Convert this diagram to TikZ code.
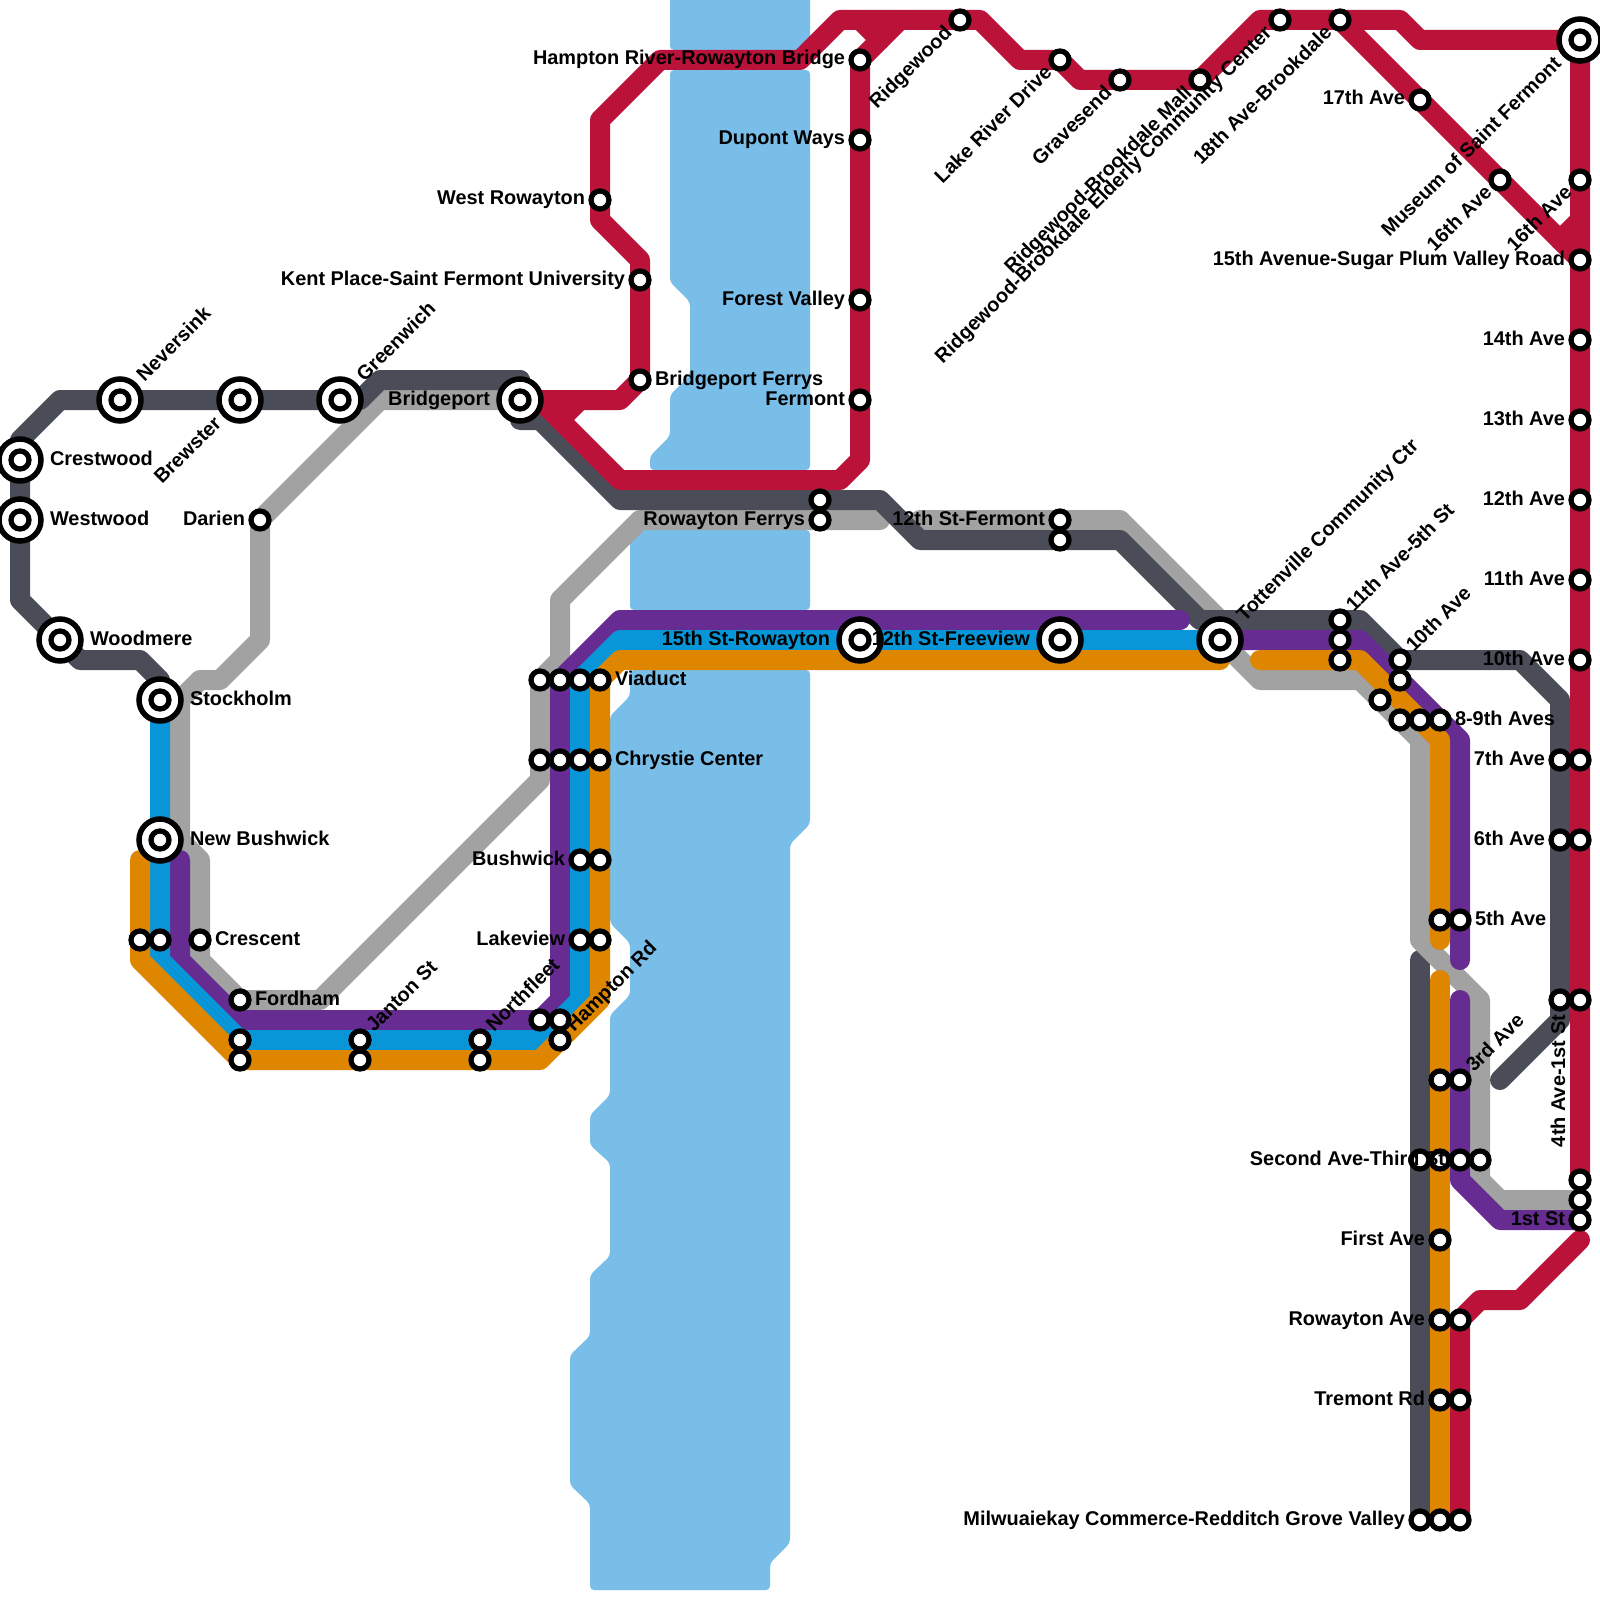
\documentclass[tikz,border=0pt]{standalone}
\usepackage{fontspec}
\setmainfont{Liberation Sans}
\definecolor{crim}{RGB}{187,18,58}
\definecolor{darkg}{RGB}{74,77,88}
\definecolor{lgray}{RGB}{162,162,162}
\definecolor{sky}{RGB}{9,150,216}
\definecolor{purp}{RGB}{102,44,145}
\definecolor{oran}{RGB}{223,134,0}
\definecolor{water}{RGB}{121,189,233}
\pgfdeclarelayer{waterlayer}
\pgfdeclarelayer{linelayer}
\pgfsetlayers{waterlayer,linelayer,main}
\tikzset{
  st/.style={circle,draw=black,fill=white,line width=0.105cm,minimum size=0.36cm,inner sep=0pt,outer sep=0pt},
  bigst/.style={circle,draw=black,fill=white,line width=0.11cm,minimum size=0.84cm,inner sep=0pt,outer sep=0pt},
  rail/.style={line width=0.4cm,line cap=round,line join=round},
  river/.style={fill=water,draw=none,rounded corners=0.08cm},
  lbl/.style={font=\fontsize{11.33}{13}\selectfont\bfseries,inner sep=0pt,outer sep=0pt,text height=0.28cm,text depth=0.08cm,text=black},
  lblL/.style={lbl,anchor=east,xshift=-0.3cm},
  lblR/.style={lbl,anchor=west,xshift=0.3cm},
  lblNE/.style={lbl,anchor=west,xshift=0.212cm,yshift=0.212cm,rotate=45},
  lblSW/.style={lbl,anchor=east,xshift=-0.212cm,yshift=-0.212cm,rotate=45},
  bigL/.style={lbl,anchor=east,xshift=-0.6cm},
  bigR/.style={lbl,anchor=west,xshift=0.6cm},
  bigNE/.style={lbl,anchor=west,xshift=0.424cm,yshift=0.424cm,rotate=45},
  bigSW/.style={lbl,anchor=east,xshift=-0.424cm,yshift=-0.424cm,rotate=45},
  lblUp/.style={lbl,anchor=east,yshift=-0.3cm,rotate=90},
}
\begin{document}
\begin{tikzpicture}[x=0.4cm,y=-0.4cm]
\useasboundingbox (0,0) rectangle (80,80);
% stations
\foreach \x/\y in {13/26,7/47,8/47,10/47,12/50,12/52,12/53,18/52,18/53,24/52,24/53,27/51,28/51,28/52,
  27/34,28/34,29/34,30/34,27/38,28/38,29/38,30/38,29/43,30/43,29/47,30/47,
  30/10,32/14,32/19,43/3,43/7,43/15,43/20,41/25,41/26,53/26,53/27,
  48/1,53/3,56/4,60/4,64/1,67/1,71/5,75/9,79/9,79/13,79/17,79/21,79/25,79/29,79/33,
  78/38,79/38,78/42,79/42,78/50,79/50,79/59,79/60,79/61,
  67/31,67/32,67/33,70/33,70/34,69/35,70/36,71/36,72/36,72/46,73/46,72/54,73/54,
  71/58,72/58,73/58,74/58,72/62,72/66,73/66,72/70,73/70,71/76,72/76,73/76}
  {\node[st] (n\x-\y) at (\x,\y) {};}
\foreach \x/\y in {1/23,1/26,3/32,6/20,12/20,17/20,26/20,8/35,8/42,43/32,53/32,61/32,79/2}
  {\node[bigst] (n\x-\y) at (\x,\y) {}; \node[st] (c\x-\y) at (\x,\y) {};}
% water
\begin{pgfonlayer}{waterlayer}
\fill[river] (33.5,-2) -- (40.5,-2) -- (40.5,2.5) -- (33.5,2.5) -- cycle;
\fill[river] (33.5,3.5) -- (40.5,3.5) -- (40.5,23.5) -- (32.5,23.5) -- (32.5,22.8) -- (33.5,21.8) -- (33.5,19.75) -- (34.5,18.75) -- (34.5,15.1) -- (33.5,14.1) -- cycle;
\fill[river] (31.5,26.5) -- (40.5,26.5) -- (40.5,30.5) -- (31.5,30.5) -- cycle;
\fill[river] (31.5,33.5) -- (40.5,33.5) -- (40.5,41.2) -- (39.5,42.2) -- (39.5,77.15) -- (38.5,78.15) -- (38.5,79.5) -- (29.5,79.5) -- (29.5,75.2) -- (28.5,74.25) -- (28.5,67.75) -- (29.5,66.8) -- (29.5,63.75) -- (30.5,62.8) -- (30.5,58.15) -- (29.5,57.25) -- (29.5,55.75) -- (30.5,54.75) -- (30.5,50.75) -- (31.5,49.75) -- (31.5,47.15) -- (30.5,46.15) -- (30.5,35.8) -- (31.5,34.8) -- cycle;
\end{pgfonlayer}
% lines
\begin{pgfonlayer}{linelayer}
\draw[rail,darkg] (71,48) -- (n71-58.center) -- (n71-76.center);
\draw[rail,lgray] (n13-26.center) -- (19,20) -- (n26-20.center);
\draw[rail,lgray] (n13-26.center) -- (13,32) -- (11,34) -- (10,34) -- (9,35) -- (9,42) -- (10,43) -- (n10-47.center) -- (10,48) -- (n12-50.center) -- (16,50) -- (27,39) -- (n27-38.center) -- (n27-34.center) -- (28,33) -- (28,30) -- (32,26) -- (n41-26.center) -- (44,26);
\draw[rail,lgray] (46,26) -- (n53-26.center) -- (56,26) -- (61,31) -- (n61-32.center) -- (63,34) -- (68,34) -- (71,37) -- (71,47) -- (74,50) -- (n74-58.center) -- (74,59) -- (75,60) -- (n79-60.center);
\draw[rail,darkg] (n8-35.center) -- (8,34) -- (7,33) -- (4,33) -- (n3-32.center) -- (1,30) -- (n1-26.center) -- (n1-23.center) -- (1,22) -- (3,20) -- (n6-20.center) -- (n12-20.center) -- (n17-20.center) -- (18,20) -- (19,19) -- (26,19);
\draw[rail,darkg] (26,19) -- (n26-20.center) -- (26,21) -- (27,21) -- (31,25) -- (n41-25.center) -- (44,25) -- (46,27) -- (n53-27.center) -- (56,27) -- (60,31) -- (n67-31.center) -- (68,31) -- (n70-33.center) -- (76,33) -- (78,35) -- (n78-38.center) -- (n78-42.center) -- (n78-50.center) -- (78,51) -- (75,54);
\draw[rail,purp] (9,43) -- (9,48) -- (12,51) -- (n27-51.center) -- (28,50) -- (n28-38.center) -- (n28-34.center) -- (31,31) -- (59,31);
\draw[rail,purp] (n61-32.center) -- (n67-32.center) -- (68,32) -- (73,37) -- (n73-46.center) -- (73,48);
\draw[rail,purp] (73,50) -- (n73-54.center) -- (n73-58.center) -- (73,59) -- (75,61) -- (n79-61.center);
\draw[rail,sky] (n8-35.center) -- (n8-42.center) -- (n8-47.center) -- (8,48) -- (n12-52.center) -- (n18-52.center) -- (n24-52.center) -- (27,52) -- (29,50) -- (n29-47.center) -- (n29-43.center) -- (n29-38.center) -- (n29-34.center) -- (31,32) -- (n43-32.center) -- (n53-32.center) -- (n61-32.center);
\draw[rail,oran] (7,43) -- (n7-47.center) -- (7,48) -- (n12-53.center) -- (n18-53.center) -- (n24-53.center) -- (27,53) -- (30,50) -- (n30-47.center) -- (n30-43.center) -- (n30-38.center) -- (n30-34.center) -- (31,33) -- (n61-32.center |- 0,33);
\draw[rail,oran] (63,33) -- (n67-33.center) -- (68,33) -- (72,37) -- (n72-46.center) -- (72,47);
\draw[rail,oran] (72,49) -- (n72-54.center) -- (n72-58.center) -- (n72-62.center) -- (n72-66.center) -- (n72-70.center) -- (n72-76.center);
\draw[rail,crim] (n26-20.center) -- (31,20) -- (n32-19.center) -- (n32-14.center) -- (32,13) -- (30,11) -- (n30-10.center) -- (30,6) -- (33,3) -- (40,3) -- (42,1) -- (n48-1.center) -- (49,1) -- (51,3) -- (n53-3.center) -- (54,4) -- (n56-4.center) -- (n60-4.center) -- (63,1) -- (n64-1.center) -- (n67-1.center) -- (70,1) -- (71,2) -- (n79-2.center) -- (n79-9.center) -- (n79-13.center) -- (n79-59.center);
\draw[rail,crim] (n26-20.center) -- (27,20) -- (31,24) -- (42,24) -- (n43-20.center |- 0,23) -- (n43-3.center) -- (45,1);
\draw[rail,crim] (43,1) -- (44,2);
\draw[rail,crim] (29,20) -- (28,21);
\draw[rail,crim] (n67-1.center) -- (n71-5.center) -- (n75-9.center) -- (n79-13.center);
\draw[rail,crim] (79,11) -- (78,12);
\draw[rail,crim] (79,62) -- (76,65) -- (74,65) -- (n73-66.center) -- (n73-70.center) -- (n73-76.center);
\end{pgfonlayer}
% labels
\node[bigNE] (tNeversink) at (n6-20) {Neversink};
\node[bigNE] (tGreenwich) at (n17-20) {Greenwich};
\node[bigSW] (tBrewster) at (n12-20) {Brewster};
\node[bigL] (tBridgeport) at (n26-20) {Bridgeport};
\node[bigR] (tCrestwood) at (n1-23) {Crestwood};
\node[bigR] (tWestwood) at (n1-26) {Westwood};
\node[bigR] (tWoodmere) at (n3-32) {Woodmere};
\node[bigR] (tStockholm) at (n8-35) {Stockholm};
\node[bigR] (tNewBushwick) at (n8-42) {New Bushwick};
\node[lblL] (tDarien) at (n13-26) {Darien};
\node[lblR] (tCrescent) at (n10-47) {Crescent};
\node[lblR] (tFordham) at (n12-50) {Fordham};
\node[lblNE] (tJanton) at (n18-52) {Janton St};
\node[lblNE] (tNorthfleet) at (n24-52) {Northfleet};
\node[lblNE] (tHamptonRd) at (n28-52) {Hampton Rd};
\node[lblR] (tViaduct) at (n30-34) {Viaduct};
\node[lblR] (tChrystie) at (n30-38) {Chrystie Center};
\node[lblL] (tBushwick) at (n29-43) {Bushwick};
\node[lblL] (tLakeview) at (n29-47) {Lakeview};
\node[lblL] (tWestRow) at (n30-10) {West Rowayton};
\node[lblL] (tKent) at (n32-14) {Kent Place-Saint Fermont University};
\node[lblR] (tBrFerrys) at (n32-19) {Bridgeport Ferrys};
\node[lblL] (tHamptonRiver) at (n43-3) {Hampton River-Rowayton Bridge};
\node[lblL] (tDupont) at (n43-7) {Dupont Ways};
\node[lblL] (tForest) at (n43-15) {Forest Valley};
\node[lblL] (tFermont) at (n43-20) {Fermont};
\node[lblL] (tRowFerrys) at (n41-26) {Rowayton Ferrys};
\node[lblL] (t12Fermont) at (n53-26) {12th St-Fermont};
\node[bigL] (t15Row) at (n43-32) {15th St-Rowayton};
\node[bigL] (t12Free) at (n53-32) {12th St-Freeview};
\node[bigNE] (tTotten) at (n61-32) {Tottenville Community Ctr};
\node[lblSW] (tRidgewood) at (n48-1) {Ridgewood};
\node[lblSW] (tLake) at (n53-3) {Lake River Drive};
\node[lblSW] (tGravesend) at (n56-4) {Gravesend};
\node[lblSW] (tRBMall) at (n60-4) {Ridgewood-Brookdale Mall};
\node[lblSW] (tRBElder) at (n64-1) {Ridgewood-Brookdale Elderly Community Center};
\node[lblSW] (t18) at (n67-1) {18th Ave-Brookdale};
\node[lblL] (t17) at (n71-5) {17th Ave};
\node[bigSW] (tMuseum) at (n79-2) {Museum of Saint Fermont};
\node[lblSW] (t16a) at (n75-9) {16th Ave};
\node[lblSW] (t16b) at (n79-9) {16th Ave};
\node[lblL] (t15) at (n79-13) {15th Avenue-Sugar Plum Valley Road};
\node[lblL] (t14) at (n79-17) {14th Ave};
\node[lblL] (t13) at (n79-21) {13th Ave};
\node[lblL] (t12) at (n79-25) {12th Ave};
\node[lblL] (t11) at (n79-29) {11th Ave};
\node[lblL] (t10r) at (n79-33) {10th Ave};
\node[lblNE] (t115) at (n67-31) {11th Ave-5th St};
\node[lblNE] (t10) at (n70-33) {10th Ave};
\node[lblR] (t89) at (n72-36) {8-9th Aves};
\node[lblL] (t7) at (n78-38) {7th Ave};
\node[lblL] (t6) at (n78-42) {6th Ave};
\node[lblR] (t5) at (n73-46) {5th Ave};
\node[lblUp] (t41) at (n78-50) {4th Ave-1st St};
\node[lblNE] (t3) at (n73-54) {3rd Ave};
\node[lblL] (tSecond) at (n73-58) {Second Ave-Third St};
\node[lblL] (t1st) at (n79-61) {1st St};
\node[lblL] (tFirst) at (n72-62) {First Ave};
\node[lblL] (tRowAve) at (n72-66) {Rowayton Ave};
\node[lblL] (tTremont) at (n72-70) {Tremont Rd};
\node[lblL] (tMilw) at (n71-76) {Milwuaiekay Commerce-Redditch Grove Valley};
\end{tikzpicture}
\end{document}
